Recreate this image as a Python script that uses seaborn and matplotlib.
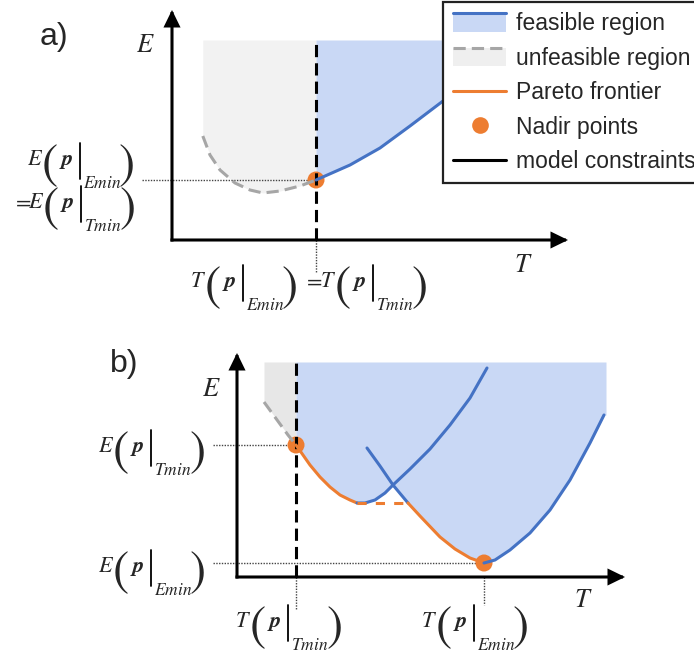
import numpy as np
import matplotlib
matplotlib.use("Agg")
import matplotlib.pyplot as plt
import seaborn as sns
from matplotlib.legend_handler import HandlerBase
from matplotlib.patches import Rectangle
from matplotlib.lines import Line2D
from matplotlib.transforms import IdentityTransform

sns.set_theme(style="white")
plt.rcParams["font.family"] = ["Liberation Sans", "DejaVu Sans"]
plt.rcParams["mathtext.fontset"] = "stix"

# ---------------- data: panel a (single objective pair, one constraint) -------------
a_T_constraint = 3.6
a_region_top = 5.0
a_feasible_T = [3.6, 4.45, 5.2, 5.95, 6.775, 7.6, 8.4]
a_feasible_E = [1.5, 1.875, 2.3, 2.85, 3.475, 4.2, 5.0]
a_unfeasible_T = [0.77, 0.95, 1.2, 1.575, 1.95, 2.275, 2.7, 3.2, 3.6]
a_unfeasible_E = [2.6, 2.125, 1.75, 1.425, 1.25, 1.175, 1.225, 1.35, 1.5]
a_nadir_T = [3.6]
a_nadir_E = [1.5]

# ---------------- data: panel b (two model branches) ------------------------------
b_T_constraint = 1.475
b_region_top = 5.375
b_region_right = 9.225
b_unfeasible_T = [0.675, 0.875, 1.075, 1.275, 1.475]
b_unfeasible_E = [4.375, 4.1, 3.825, 3.55, 3.3]
b_branch1_T = [1.475, 1.825, 2.075, 2.325, 2.575, 2.825, 3.0, 3.2, 3.45, 3.7, 3.9,
               4.325, 4.825, 5.325, 5.825, 6.25]
b_branch1_E = [3.3, 2.8, 2.5, 2.25, 2.05, 1.925, 1.85, 1.85, 1.925, 2.1, 2.3,
               2.7, 3.2, 3.8, 4.475, 5.225]
b_branch2_T = [3.25, 3.575, 3.9, 4.275, 4.575, 5.075, 5.45, 5.825, 6.175, 6.45,
               6.825, 7.325, 7.825, 8.325, 8.825, 9.175]
b_branch2_E = [3.225, 2.775, 2.3, 1.85, 1.525, 1.0, 0.7, 0.475, 0.35, 0.425,
               0.675, 1.1, 1.675, 2.425, 3.35, 4.05]
b_pareto1_end = 3.0               # Pareto part of branch 1: T <= this
b_pareto2_range = (4.275, 6.175)  # Pareto part of branch 2
b_crossing_T = 3.9
b_nadir_T = [1.475, 6.175]
b_nadir_E = [3.3, 0.35]

legend_labels = ["feasible region", "unfeasible region", "Pareto frontier",
                 "Nadir points", "model constraints"]

# ---------------- styles ----------------------------------------------------------
BLUE = "#4472c4"
BLUE_FILL = "#c9d8f5"
ORANGE = "#ed7d31"
GRAY_LINE = "#a6a6a6"
GRAY_FILL_A = "#f2f2f2"
GRAY_FILL_B = "#e7e7e7"
LW = 2.2
DASH = (0, (4, 2))
DOT = (0, (1, 1))
AXLABEL_FS = 19

W, H = 694, 658
fig = plt.figure(figsize=(W / 100, H / 100), dpi=100)


def px_axes(x0, y0):
    # axes whose origin sits at pixel (x0, y0); 40 px per data unit
    ax = fig.add_axes([x0 / W, (H - y0) / H, 400 / W, 240 / H])
    ax.set_xlim(0, 10)
    ax.set_ylim(0, 6)
    ax.set_axis_off()
    return ax


def draw_axes_arrows(ax, xmax, ymax):
    kw = dict(arrowstyle="-|>,head_length=0.45,head_width=0.22", lw=2.2,
              color="black", mutation_scale=20, shrinkA=0, shrinkB=0,
              joinstyle="miter", capstyle="projecting")
    ax.annotate("", xy=(0, ymax), xytext=(0, 0), arrowprops=kw, annotation_clip=False)
    ax.annotate("", xy=(xmax, 0), xytext=(0, 0), arrowprops=kw, annotation_clip=False)


def guide(ax, xs, ys):
    ax.plot(xs, ys, color="#444444", lw=1.0, linestyle=DOT, clip_on=False, zorder=2)


def curve(ax, t, e, color, ls="-", lw=LW, z=4):
    sns.lineplot(x=t, y=e, ax=ax, color=color, lw=lw, linestyle=ls,
                 estimator=None, sort=False, zorder=z, legend=False)
    ax.lines[-1].set_clip_on(False)


# ---------------- conditional-value labels  X( p |_{Y min} ) -------------------------
# each piece: (text, fontsize, x offset px, baseline shift px); "BAR" is the
# evaluation bar drawn as a thin rule
LABEL_W = 105


def value_parts(var, sub, x0=0):
    return [(f"${var}$", 16, x0 + 0, 0),
            ("$($", 35, x0 + 14, -13),
            (r"$\boldsymbol{p}$", 16, x0 + 32, 0),
            ("BAR", None, x0 + 53, 0),
            (f"${sub}min$", 12.5, x0 + 56, -23),
            ("$)$", 35, x0 + 91, -13)]


def compound_label(x_left, y_base, parts):
    # x_left, y_base in image pixels (y measured from the top)
    yb = H - y_base
    for s, fs, dx, dy in parts:
        if s == "BAR":
            fig.add_artist(Line2D([x_left + dx] * 2, [yb + 22, yb - 14], lw=1.3,
                                  color="black", transform=IdentityTransform()))
        else:
            fig.text(x_left + dx, yb + dy, s, fontsize=fs, va="baseline", ha="left",
                     transform=IdentityTransform())


# ======================= panel a ====================================================
axa = px_axes(172, 240)
axa.fill_between(a_unfeasible_T, a_unfeasible_E, a_region_top, color=GRAY_FILL_A,
                 lw=0, zorder=1)
axa.fill_between(a_feasible_T, a_feasible_E, a_region_top, color=BLUE_FILL, lw=0, zorder=1)
guide(axa, [-0.75, a_nadir_T[0]], [a_nadir_E[0]] * 2)
guide(axa, [a_nadir_T[0]] * 2, [0, -0.83])
sns.scatterplot(x=a_nadir_T, y=a_nadir_E, ax=axa, s=150, color=ORANGE,
                edgecolor="none", zorder=3, legend=False)
curve(axa, a_unfeasible_T, a_unfeasible_E, GRAY_LINE, ls=DASH)
curve(axa, a_feasible_T, a_feasible_E, BLUE)
axa.plot([a_T_constraint] * 2, [0, a_region_top], color="black", lw=LW,
         linestyle=DASH, zorder=3.5)
draw_axes_arrows(axa, 9.9, 5.75)
axa.text(-0.675, 4.88, r"$E$", fontsize=AXLABEL_FS, ha="center", va="center")
axa.text(8.78, -0.63, r"$T$", fontsize=AXLABEL_FS, ha="center", va="center")
compound_label(27, 165, value_parts("E", "E"))
compound_label(12, 208, [("$=$", 16, 0, 0)] + value_parts("E", "T", x0=16))
compound_label(190, 287, value_parts("T", "E") + [("$=$", 16, 113, 0)]
               + value_parts("T", "T", x0=130))
fig.text(40 / W, 1 - 37 / H, "a)", fontsize=23, ha="left", va="center")

# ======================= panel b ====================================================
axb = px_axes(237, 577)
b1T, b1E = np.array(b_branch1_T), np.array(b_branch1_E)
b2T, b2E = np.array(b_branch2_T), np.array(b_branch2_E)
# lower envelope of the two branches bounds the feasible region
m1 = b1T <= b_crossing_T
m2 = b2T > b_crossing_T
env_T = np.concatenate([b1T[m1], b2T[m2], [b_region_right]])
env_E = np.concatenate([b1E[m1], b2E[m2], [b2E[-1]]])
axb.fill_between(b_unfeasible_T, b_unfeasible_E, b_region_top, color=GRAY_FILL_B,
                 lw=0, zorder=1)
axb.fill_between(env_T, env_E, b_region_top, color=BLUE_FILL, lw=0, zorder=1)

guide(axb, [-0.6, b_nadir_T[0]], [b_nadir_E[0]] * 2)
guide(axb, [-0.6, b_nadir_T[1]], [b_nadir_E[1]] * 2)
guide(axb, [b_nadir_T[0]] * 2, [0, -0.83])
guide(axb, [b_nadir_T[1]] * 2, [0, -0.7])
sns.scatterplot(x=b_nadir_T, y=b_nadir_E, ax=axb, s=150, color=ORANGE,
                edgecolor="none", zorder=3, legend=False)

p1 = b1T <= b_pareto1_end
blue1 = (b1T >= b_pareto1_end)
curve(axb, b1T[p1], b1E[p1], ORANGE)
curve(axb, b1T[blue1], b1E[blue1], BLUE)
lo, hi = b_pareto2_range
pa = (b2T >= lo) & (b2T <= hi)
curve(axb, b2T[b2T <= lo], b2E[b2T <= lo], BLUE)
curve(axb, b2T[pa], b2E[pa], ORANGE)
curve(axb, b2T[b2T >= hi], b2E[b2T >= hi], BLUE)
# dominated gap of the frontier, bridged at the branch-1 minimum
axb.plot([b_pareto1_end, lo], [b1E[p1][-1]] * 2, color=ORANGE, lw=LW,
         linestyle=(0, (3, 3)), zorder=4)
curve(axb, b_unfeasible_T, b_unfeasible_E, GRAY_LINE, ls=DASH)
axb.plot([b_T_constraint] * 2, [0, b_region_top], color="black", lw=LW,
         linestyle=DASH, zorder=3.5)
draw_axes_arrows(axb, 9.7, 5.6)
axb.text(-0.63, 4.7, r"$E$", fontsize=AXLABEL_FS, ha="center", va="center")
axb.text(8.65, -0.58, r"$T$", fontsize=AXLABEL_FS, ha="center", va="center")
compound_label(203 - LABEL_W, 452, value_parts("E", "T"))
compound_label(203 - LABEL_W, 572, value_parts("E", "E"))
compound_label(235, 627, value_parts("T", "T"))
compound_label(421, 627, value_parts("T", "E"))
fig.text(110 / W, 1 - 364 / H, "b)", fontsize=23, ha="left", va="center")


# ======================= legend =====================================================
class RegionKey:
    def __init__(self, face, edge, ls):
        self.face, self.edge, self.ls = face, edge, ls


class RegionHandler(HandlerBase):
    def create_artists(self, legend, orig_handle, xdescent, ydescent, width,
                       height, fontsize, trans):
        x0, y0 = -xdescent, -ydescent
        rect = Rectangle((x0, y0), width, height, facecolor=orig_handle.face,
                         edgecolor="none", transform=trans)
        line = Line2D([x0, x0 + width], [y0 + height] * 2, color=orig_handle.edge,
                      lw=LW, linestyle=orig_handle.ls, transform=trans)
        return [rect, line]


handles = [
    RegionKey(BLUE_FILL, BLUE, "-"),
    RegionKey("#efefef", GRAY_LINE, DASH),
    Line2D([], [], color=ORANGE, lw=LW),
    Line2D([], [], color=ORANGE, marker="o", markersize=12, linestyle="none",
           markeredgecolor="none"),
    Line2D([], [], color="black", lw=LW),
]
leg = fig.legend(handles, legend_labels, loc="upper left",
                 bbox_to_anchor=(443 / W, 1 - 2 / H), bbox_transform=fig.transFigure,
                 borderaxespad=0, fontsize=16.5, frameon=True, fancybox=False,
                 edgecolor="#222222", framealpha=1, handlelength=2.3,
                 handleheight=0.85, handletextpad=0.45, labelspacing=0.5,
                 borderpad=0.45, handler_map={RegionKey: RegionHandler()})
leg.get_frame().set_linewidth(1.6)

fig.savefig("out.png", dpi=100)
